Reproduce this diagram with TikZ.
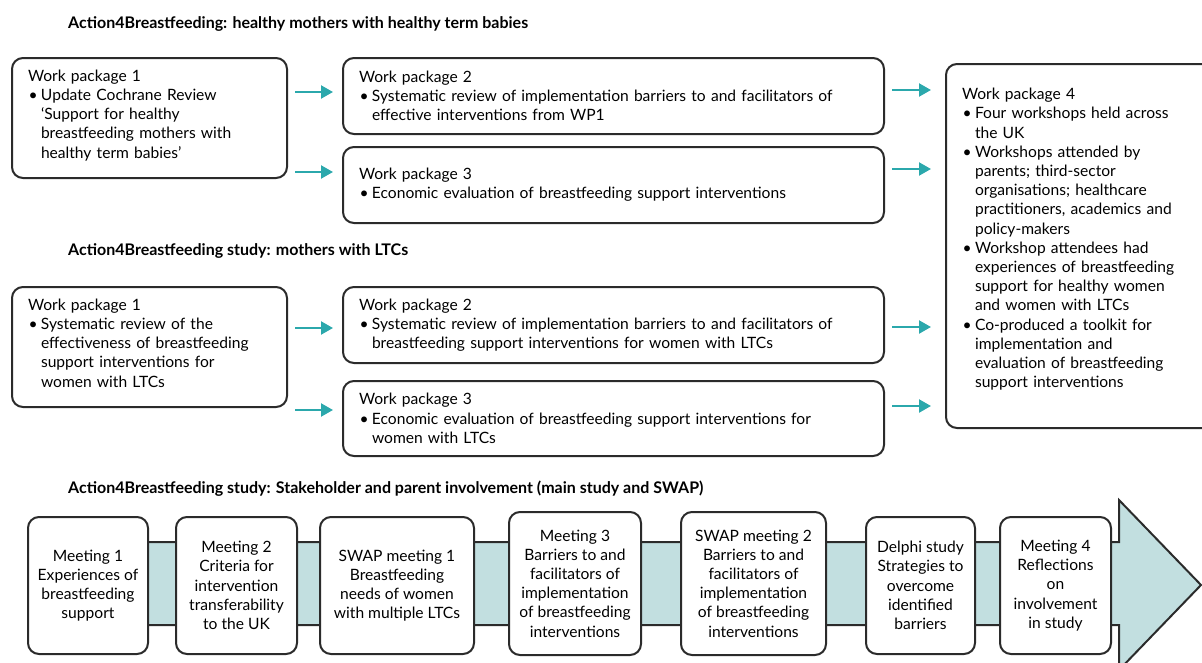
\documentclass[tikz,border=0pt]{standalone}
\usepackage{fontspec}
\setmainfont{Lato}
\usepackage{xcolor}
\usepackage{tikz}
\usetikzlibrary{arrows.meta}
\definecolor{arrowteal}{HTML}{2BA8AC}
\definecolor{bandblue}{HTML}{C2DFE0}
\definecolor{edge}{HTML}{2B2B2B}
\newcommand{\bul}{\makebox[13pt][l]{\hspace{0.5pt}\textbullet}}
\newcommand{\ind}{\makebox[13pt]{}}
\tikzset{
	wp/.style={draw=edge, line width=2pt, rounded corners=11pt, fill=white, anchor=north west, align=left, inner xsep=16pt, inner ysep=0pt, font=\fontsize{15.6}{19.2}\selectfont},
	mt/.style={draw=edge, line width=2pt, rounded corners=11pt, fill=white, align=center, inner sep=0pt, font=\fontsize{15.6}{19.2}\selectfont},
	go/.style={arrowteal, line width=2.2pt, -{Triangle[length=12pt,width=13pt]}},
	head/.style={anchor=west, inner sep=0pt, font=\fontsize{16}{19}\selectfont\bfseries}
}

\begin{document}
\begin{tikzpicture}[x=1pt,y=-1pt]
		\useasboundingbox (0,0) rectangle (1202,662);
		\node[head] (t1) at (68,24) {Action4Breastfeeding: healthy mothers with healthy term babies};
		\node[head] (t2) at (68,251) {Action4Breastfeeding study: mothers with LTCs};
		\node[head] (t3) at (68,489) {Action4Breastfeeding study: Stakeholder and parent involvement (main study and SWAP)};

		\node[wp, text width=243pt, minimum height=120pt] (hA1) at (11,57) {Work package 1\\\bul Update Cochrane Review\\\ind `Support for healthy\\\ind breastfeeding mothers with\\\ind healthy term babies'\\[-11pt]\mbox{}};
		\node[wp, text width=509pt, minimum height=76pt] (hA2) at (342,57) {Work package 2\\\bul Systematic review of implementation barriers to and facilitators of\\\ind effective interventions from WP1};
		\node[wp, text width=509pt, minimum height=76pt] (hA3) at (342,146) {Work package 3\\\bul Economic evaluation of breastfeeding support interventions};

		\node[wp, text width=243pt, minimum height=120pt] (lB1) at (11,286) {Work package 1\\\bul Systematic review of the\\\ind effectiveness of breastfeeding\\\ind support interventions for\\\ind women with LTCs\\[-11pt]\mbox{}};
		\node[wp, text width=509pt, minimum height=76pt] (lB2) at (342,286) {Work package 2\\\bul Systematic review of implementation barriers to and facilitators of\\\ind breastfeeding support interventions for women with LTCs};
		\node[wp, text width=509pt, minimum height=75pt] (lB3) at (342,380) {Work package 3\\\bul Economic evaluation of breastfeeding support interventions for\\\ind women with LTCs};

		\node[wp, text width=238pt, minimum height=364pt] (wp4) at (945,63) {Work package 4\\\bul Four workshops held across\\\ind the UK\\\bul Workshops attended by\\\ind parents; third-sector\\\ind organisations; healthcare\\\ind practitioners, academics and\\\ind policy-makers\\\bul Workshop attendees had\\\ind experiences of breastfeeding\\\ind support for healthy women\\\ind and women with LTCs\\\bul Co-produced a toolkit for\\\ind implementation and\\\ind evaluation of breastfeeding\\\ind support interventions\\[-3pt]\mbox{}};

		\draw[go, shorten <=7pt, shorten >=9pt] (hA1.east |- 0,92) -- (hA2.west |- 0,92);
		\draw[go, shorten <=7pt, shorten >=9pt] (hA1.east |- 0,172) -- (hA3.west |- 0,172);
		\draw[go, shorten <=7pt, shorten >=9pt] (lB1.east |- 0,328) -- (lB2.west |- 0,328);
		\draw[go, shorten <=7pt, shorten >=9pt] (lB1.east |- 0,410) -- (lB3.west |- 0,410);
		\draw[go, shorten <=7pt, shorten >=14pt] (hA2.east |- 0,90) -- (wp4.west |- 0,90);
		\draw[go, shorten <=7pt, shorten >=14pt] (hA3.east |- 0,169) -- (wp4.west |- 0,169);
		\draw[go, shorten <=7pt, shorten >=14pt] (lB2.east |- 0,327) -- (wp4.west |- 0,327);
		\draw[go, shorten <=7pt, shorten >=14pt] (lB3.east |- 0,406) -- (wp4.west |- 0,406);

		\draw[edge, line width=2pt, fill=bandblue] (40,542) -- (1119,542) -- (1119,500) -- (1201,585) -- (1119,670) -- (1119,625) -- (40,625) -- cycle;
		\node[mt, minimum width=120pt, minimum height=137pt] (m1) at (88,585.5) {Meeting 1\\Experiences of\\breastfeeding\\support};
		\node[mt, minimum width=121pt, minimum height=137pt] (m2) at (236.5,585.5) {Meeting 2\\Criteria for\\intervention\\transferability\\to the UK};
		\node[mt, minimum width=154pt, minimum height=137pt] (m3) at (397,585.5) {SWAP meeting 1\\Breastfeeding\\needs of women\\with multiple LTCs};
		\node[mt, minimum width=132pt, minimum height=143pt] (m4) at (575,583.5) {Meeting 3\\Barriers to and\\facilitators of\\implementation\\of breastfeeding\\interventions};
		\node[mt, minimum width=145pt, minimum height=143pt] (m5) at (753.5,583.5) {SWAP meeting 2\\Barriers to and\\facilitators of\\implementation\\of breastfeeding\\interventions};
		\node[mt, minimum width=109pt, minimum height=137pt] (m6) at (920.5,585.5) {Delphi study\\Strategies to\\overcome\\identified\\barriers};
		\node[mt, minimum width=111pt, minimum height=137pt] (m7) at (1055.5,585.5) {Meeting 4\\Reflections\\on\\involvement\\in study};
	\end{tikzpicture}
\end{document}
